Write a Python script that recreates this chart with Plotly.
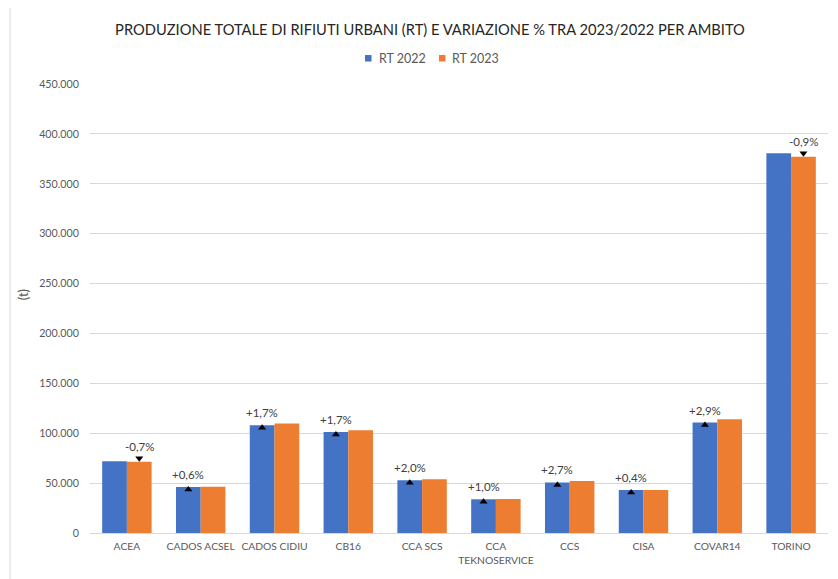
import plotly.graph_objects as go

categories = ["ACEA", "CADOS ACSEL", "CADOS CIDIU", "CB16", "CCA SCS",
              "CCA<br>TEKNOSERVICE", "CCS", "CISA", "COVAR14", "TORINO"]
rt2022 = [72000, 46000, 108000, 101300, 52800, 33800, 50700, 43000, 110700, 380500]
rt2023 = [71500, 46300, 109800, 103000, 53900, 34100, 52100, 43200, 113900, 377100]
variation = [-0.7, 0.6, 1.7, 1.7, 2.0, 1.0, 2.7, 0.4, 2.9, -0.9]
series_names = ["RT 2022", "RT 2023"]
yticks = list(range(0, 450001, 50000))

FONT = "Lato"
BLUE = "#4472C4"
ORANGE = "#ED7D31"
GRAY = "#595959"

BARGAP = 0.33
half = (1 - BARGAP) / 4  # center offset of each bar in a group

# the page body has an 8px margin: figure is sized/positioned to compensate
W, H = 830, 571
ML, MR, MT, MB = 82, 10, 76, 45.5
PW, PH = W - ML - MR, H - MT - MB


def px(fx):
    return (fx - ML) / PW


def py(fy):
    return (H - MB - fy) / PH


xs = list(range(len(categories)))

fig = go.Figure()
fig.add_trace(go.Bar(x=xs, y=rt2022, name=series_names[0], marker=dict(color=BLUE, line=dict(width=0))))
fig.add_trace(go.Bar(x=xs, y=rt2023, name=series_names[1], marker=dict(color=ORANGE, line=dict(width=0))))

mx, my, msym = [], [], []
annotations = []
for i, p in enumerate(variation):
    if p >= 0:
        x = i - half
        y = rt2022[i] - 2500
        sym = "triangle-up"
        shift = 15
    else:
        x = i + half
        y = rt2023[i] + 3500
        sym = "triangle-down"
        shift = 12
    mx.append(x); my.append(y); msym.append(sym)
    annotations.append(dict(x=x, y=y, xref="x", yref="y", yshift=shift,
                            text=f"{p:+.1f}%".replace(".", ","), showarrow=False,
                            font=dict(family=FONT, size=11.5, color="#404040")))

fig.add_trace(go.Scatter(x=mx, y=my, mode="markers", showlegend=False,
                         marker=dict(symbol=msym, size=7, color="black"),
                         hoverinfo="skip"))

# custom legend (small squares + labels, like the reference)
shapes = []
for name, color, sq_x, txt_x in [(series_names[0], BLUE, 357, 368.7),
                                  (series_names[1], ORANGE, 431, 442)]:
    shapes.append(dict(type="rect", xref="paper", yref="paper",
                       x0=px(sq_x), x1=px(sq_x + 6.5), y0=py(53.5), y1=py(47),
                       fillcolor=color, line=dict(width=0)))
    annotations.append(dict(x=px(txt_x), y=py(50.3), xref="paper", yref="paper",
                            xanchor="left", yanchor="middle", showarrow=False,
                            text=name, font=dict(family=FONT, size=12.5, color=GRAY)))

# y-axis title
annotations.append(dict(x=px(14.5), y=py(287), xref="paper", yref="paper",
                        xanchor="center", yanchor="middle", showarrow=False, textangle=-90,
                        text="(t)", font=dict(family=FONT, size=13, color=GRAY)))

# chart frame (left edge)
shapes.append(dict(type="line", xref="paper", yref="paper", x0=px(2), x1=px(2),
                   y0=py(H + 10), y1=py(-10), line=dict(color="#D9D9D9", width=1)))

fig.update_layout(
    width=W, height=H,
    margin=dict(l=ML, r=MR, t=MT, b=MB),
    paper_bgcolor="white", plot_bgcolor="white",
    barmode="group", bargap=BARGAP, bargroupgap=0,
    separators=",.",
    showlegend=False,
    font=dict(family=FONT, size=11, color=GRAY),
    title=dict(text="PRODUZIONE TOTALE DI RIFIUTI URBANI (RT) E VARIAZIONE % TRA 2023/2022 PER AMBITO",
               x=422 / W, xref="container", xanchor="center", y=1 - 22 / H, yref="container",
               yanchor="middle",
               font=dict(family=FONT, size=14.7, color="#262626")),
    xaxis=dict(range=[-0.5, len(categories) - 0.5], tickmode="array", tickvals=xs,
               ticktext=categories, showgrid=False, showline=True, linecolor="#D9D9D9",
               linewidth=1, ticks="outside", ticklen=4, tickcolor="rgba(0,0,0,0)",
               tickangle=0, automargin=False,
               tickfont=dict(family=FONT, size=10.3, color=GRAY),
               zeroline=False),
    yaxis=dict(range=[0, 450000], tickmode="array", tickvals=yticks, tickformat=",.0f",
               showgrid=True, gridcolor="#D9D9D9", gridwidth=1, zeroline=False,
               ticks="outside", ticklen=8, tickcolor="rgba(0,0,0,0)", automargin=False,
               tickfont=dict(family=FONT, size=10.7, color=GRAY)),
    annotations=annotations,
    shapes=shapes,
)

fig.write_html("out.html")
